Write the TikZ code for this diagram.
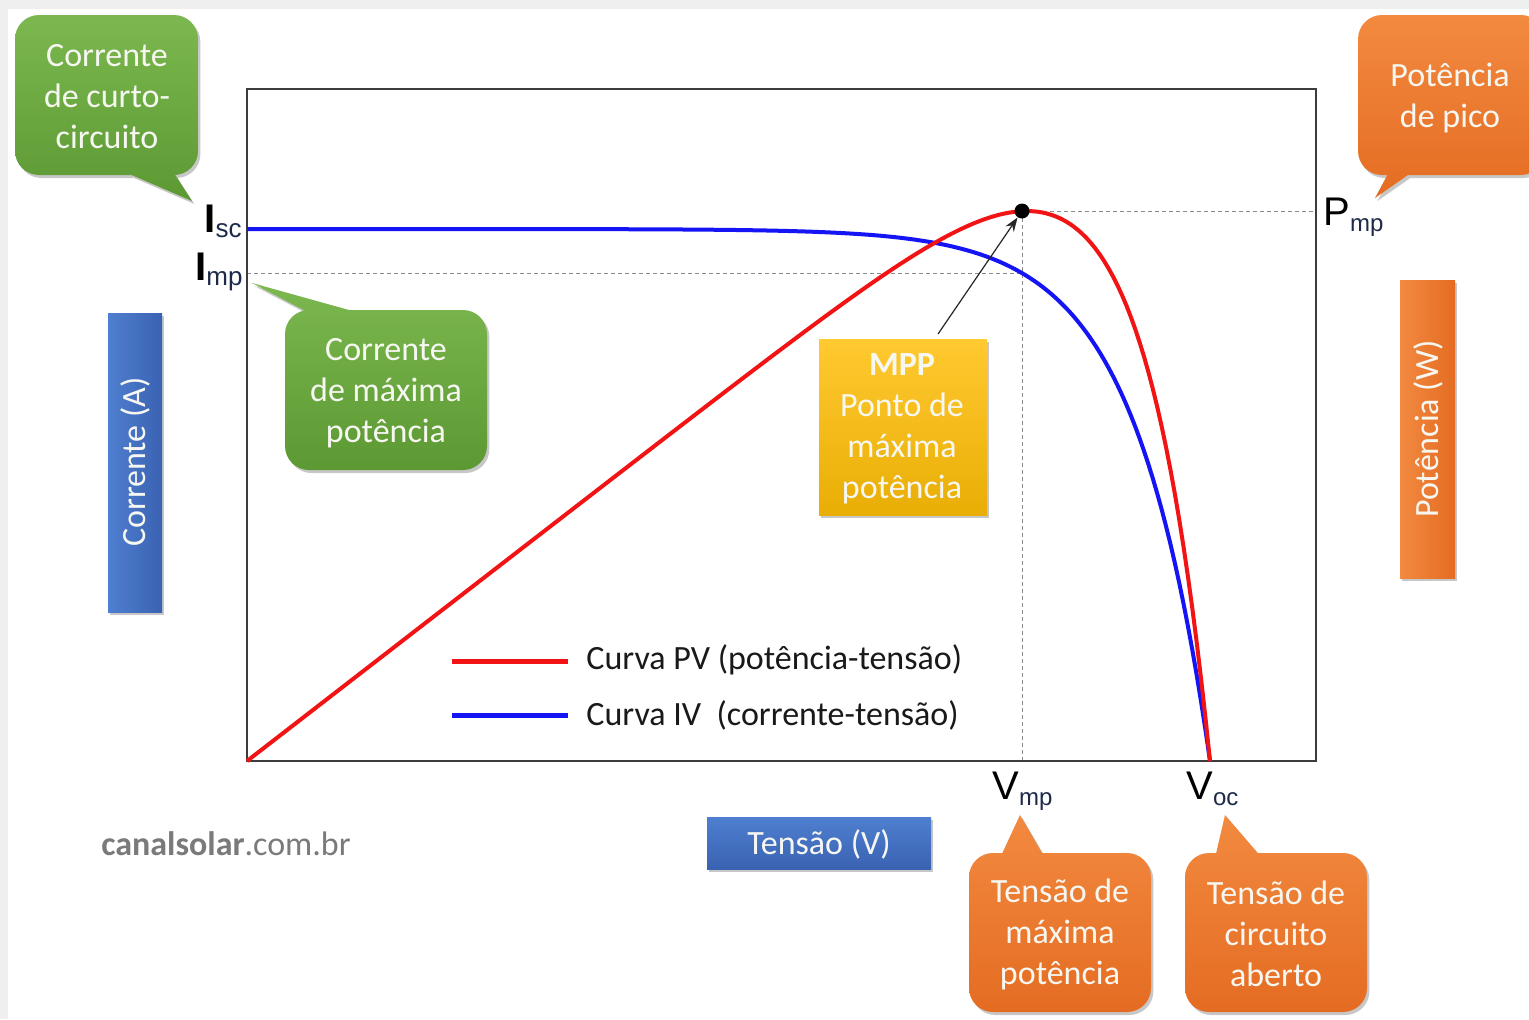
\documentclass[tikz,border=0pt]{standalone}
\usepackage{fontspec}
\setmainfont{Carlito}
\newfontfamily\arialf{Liberation Sans}
\usetikzlibrary{arrows.meta,shadows}

\definecolor{gTop}{HTML}{7CB84F}
\definecolor{gBot}{HTML}{5C9933}
\definecolor{oTop}{HTML}{F28A40}
\definecolor{oBot}{HTML}{E46C22}
\definecolor{yTop}{HTML}{FFC930}
\definecolor{yBot}{HTML}{E9AE05}
\definecolor{bL}{HTML}{4F7FD0}
\definecolor{bR}{HTML}{3A62B2}
\definecolor{bgGray}{HTML}{EFEFEF}
\definecolor{frameC}{HTML}{3C3C3C}
\definecolor{dashC}{HTML}{8A8A8A}
\definecolor{subC}{HTML}{1E2A4A}
\definecolor{txtW}{HTML}{F7F7F2}
\definecolor{canal}{HTML}{7A7A7A}
\definecolor{ivBlue}{HTML}{1414F5}
\definecolor{pvRed}{HTML}{F21414}

\tikzset{
  calltext/.style={text=txtW, font=\fontsize{17}{20.5}\selectfont, align=center, inner sep=0pt},
  shadowed/.style={drop shadow={opacity=0.22, shadow xshift=1.2pt, shadow yshift=-1.5pt, fill=black}},
  greenfill/.style={top color=gTop, bottom color=gBot},
  orangefill/.style={top color=oTop, bottom color=oBot},
  guide/.style={dashC, line width=0.5pt, dash pattern=on 2pt off 1.5pt},
  axlabel/.style={font=\arialf\fontsize{20}{22}\selectfont, inner sep=0pt},
  ilabel/.style={font=\arialf\bfseries\fontsize{20}{22}\selectfont, inner sep=0pt},
  legtext/.style={font=\fontsize{17}{20.5}\selectfont, text={rgb,255:red,25;green,25;blue,25}, inner sep=0pt},
}
\newcommand{\subsc}[1]{\raisebox{-3pt}{\fontsize{12}{13}\selectfont\mdseries\color{subC}#1}}
\newcommand{\subsi}[1]{\raisebox{-2.5pt}{\fontsize{13}{14}\selectfont\mdseries\color{subC}#1}}

\begin{document}
\begin{tikzpicture}[x=0.5pt,y=-0.5pt]
\useasboundingbox (0,0) rectangle (1529,1019);
\fill[bgGray] (0,0) rectangle (1529,1019);
\fill[white] (8,9) rectangle (1529,1019);

% plot frame coordinates
\coordinate (fTL) at (247,89);
\coordinate (fBR) at (1316,761);
\coordinate (impL) at (247,273);
\coordinate (impR) at (1022,273);
\coordinate (vmpB) at (1022,761);
\coordinate (pmpR) at (1316,211);

% guides
\draw[guide] (impL) -- (impR);
\draw[guide] (1022,211) -- (vmpB);
\draw[guide] (1022,211) -- (pmpR);

% frame
\draw[frameC, line width=0.75pt] (fTL) rectangle (fBR);

% curves
\draw[ivBlue, line width=2pt, line join=round]
  plot[domain=0:963, samples=220] ({247+\x},{761-532*(1-exp((\x-963)/75.5))});
\draw[pvRed, line width=2pt, line join=round]
  plot[domain=0:963, samples=220] ({247+\x},{761-0.7736*\x*(1-exp((\x-963)/75.5))});

% MPP dot and arrow
\node[circle, fill=black, inner sep=0pt, minimum size=7.5pt] (dot) at (1022,211) {};
\coordinate (arrS) at (938,334);
\draw[-{Stealth[length=7pt,width=5pt]}, line width=0.6pt, black!85] (arrS) -- (dot);

% axis labels
\node[ilabel, anchor=base east] (isc) at (242,232) {I\subsi{sc}};
\node[ilabel, anchor=base east] (imp) at (243,280) {I\subsi{mp}};
\node[axlabel, anchor=base west] (pmp) at (1323,225) {P\subsc{mp}};
\node[axlabel, anchor=base west] (vmp) at (992,799) {V\subsc{mp}};
\node[axlabel, anchor=base west] (voc) at (1186,799) {V\subsc{oc}};

% legend
\coordinate (lrA) at (452,661); \coordinate (lrB) at (568,661);
\coordinate (lbA) at (452,715); \coordinate (lbB) at (568,715);
\draw[pvRed, line width=2.5pt] (lrA) -- (lrB);
\draw[ivBlue, line width=2.5pt] (lbA) -- (lbB);
\node[legtext, anchor=west] (legpv) at (586,660) {Curva PV (potência-tensão)};
\node[legtext, anchor=west] (legiv) at (586,715) {Curva IV\ \ (corrente-tensão)};

% callout 1: short-circuit current
\shade[greenfill, shadowed, rounded corners=12pt]
  (15,15) -- (198,15) -- (198,175) -- (15,175) -- cycle
  [sharp corners] (172,170) -- (192,201) -- (120,170) -- cycle;
\node[calltext] (c1) at (107,97) {Corrente\\de curto-\\circuito};

% callout 2: max power current
\shade[greenfill, shadowed, rounded corners=12pt]
  (285,310) -- (487,310) -- (487,470) -- (285,470) -- cycle
  [sharp corners] (313,315) -- (252,283) -- (367,315) -- cycle;
\node[calltext] (c2) at (386,393) {Corrente\\de máxima\\potência};

% callout 3: peak power
\shade[orangefill, shadowed, rounded corners=12pt]
  (1358,15) -- (1545,15) -- (1545,175) -- (1358,175) -- cycle
  [sharp corners] (1415,170) -- (1375,198) -- (1390,170) -- cycle;
\node[calltext] (c3) at (1450,98) {Potência\\de pico};

% MPP box
\shade[top color=yTop, bottom color=yBot, shadowed] (819,339) rectangle (987,515);
\node[calltext] (mpp) at (902,429) {\textbf{MPP}\\Ponto de\\máxima\\potência};

% callout 4: Vmp
\shade[orangefill, shadowed, rounded corners=12pt]
  (969,853) -- (1151,853) -- (1151,1012) -- (969,1012) -- cycle
  [sharp corners] (1000,858) -- (1020,815) -- (1045,858) -- cycle;
\node[calltext] (c4) at (1060,934) {Tensão de\\máxima\\potência};

% callout 5: Voc
\shade[orangefill, shadowed, rounded corners=12pt]
  (1185,853) -- (1367,853) -- (1367,1012) -- (1185,1012) -- cycle
  [sharp corners] (1215,858) -- (1225,815) -- (1262,858) -- cycle;
\node[calltext] (c5) at (1276,934) {Tensão de\\circuito\\aberto};

% axis title boxes
\shade[left color=bL, right color=bR, shadowed] (108,313) rectangle (162,612);
\node[calltext, rotate=90] (ycur) at (135,462) {Corrente (A)};
\shade[left color=oTop, right color=oBot, shadowed] (1400,280) rectangle (1455,578);
\node[calltext, rotate=90] (ypow) at (1428,429) {Potência (W)};
\shade[top color=bL, bottom color=bR, shadowed] (707,817) rectangle (931,869);
\node[calltext] (xten) at (819,844) {Tensão (V)};

% watermark
\node[font=\fontsize{17}{20}\selectfont, text=canal, inner sep=0pt] (site) at (226,844) {\textbf{canalsolar}.com.br};
\end{tikzpicture}
\end{document}
